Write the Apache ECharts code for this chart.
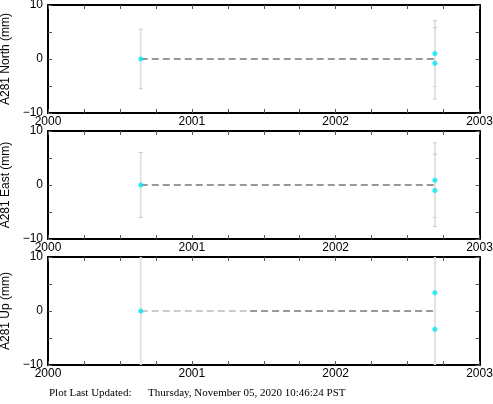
<!DOCTYPE html>
<html>
<head>
<meta charset="utf-8">
<script src="https://cdn.jsdelivr.net/npm/echarts@6/dist/echarts.min.js"></script>
<style>
html,body{margin:0;padding:0;background:#fff;}
#chart{width:493px;height:404px;}
</style>
</head>
<body>
<div id="chart"></div>
<script>
// ---- data ----
const panelNames = ['A281 North (mm)', 'A281 East (mm)', 'A281 Up (mm)'];
const epochs = [2000.645, 2002.69, 2002.69];
const northVals = [0, 1.0, -0.8];
const northErr = [5.5, 6.1, 6.6];
const eastVals = [0, 0.9, -1.0];
const eastErr = [6.0, 6.9, 6.7];
const upVals = [0, 3.4, -3.4];
const upErr = [25, 25, 25];
const trendStart = [2000.645, 0];
const trendEnd = [2002.69, 0];
const upTrendBreak = [2001.405, 0];
const xTickYears = [2000, 2001, 2002, 2003];
const yTickLabels = [-10, 0, 10];
const footerLabel = 'Plot Last Updated:';
const footerDate = 'Thursday, November 05, 2020 10:46:24 PST';

const valsList = [northVals, eastVals, upVals];
const errList = [northErr, eastErr, upErr];

const FONT = "'Liberation Sans', Arial, Helvetica, sans-serif";
const tops = [5, 131, 257];
const grids = [], xAxes = [], yAxes = [], series = [];
const frameLine = {show: true, onZero: false, lineStyle: {color: '#000', width: 2}};
const tickStyle = {show: true, inside: true, length: 4, lineStyle: {color: '#555', width: 1}};

tops.forEach((top, i) => {
  grids.push({left: 48, right: 13.5, top: top, height: 108, show: false,
    containLabel: false, outerBoundsMode: 'none'});
  const xa = {
    gridIndex: i, type: 'value', min: 2000, max: 2003, interval: 0.25,
    axisLine: frameLine, splitLine: {show: false}, axisTick: tickStyle
  };
  xAxes.push(Object.assign({}, xa, {position: 'bottom',
    axisLabel: {show: true, margin: 3, color: '#000', fontSize: 12, fontFamily: FONT,
      formatter: v => xTickYears.includes(v) ? String(v) : ''}}));
  xAxes.push(Object.assign({}, xa, {position: 'top', axisLabel: {show: false}}));
  const ya = {
    gridIndex: i, type: 'value', min: -10, max: 10, interval: 5,
    axisLine: frameLine, splitLine: {show: false}, axisTick: tickStyle
  };
  yAxes.push(Object.assign({}, ya, {position: 'left',
    name: panelNames[i], nameLocation: 'middle', nameGap: 32, nameRotate: 90,
    nameTextStyle: {color: '#000', fontSize: 12, fontFamily: FONT},
    axisLabel: {show: true, margin: 5, color: '#000', fontSize: 12, fontFamily: FONT,
      formatter: v => yTickLabels.includes(v) ? String(v).replace('-', '\u2212') : ''}}));
  yAxes.push(Object.assign({}, ya, {position: 'right', axisLabel: {show: false}}));

  const xi = i * 2, yi = i * 2;
  const vals = valsList[i], errs = errList[i];
  const pts = epochs.map((t, k) => [t, vals[k], errs[k]]);

  // error bars
  series.push({
    type: 'custom', xAxisIndex: xi, yAxisIndex: yi, clip: true, z: 1,
    data: pts,
    renderItem: function (params, api) {
      const x = api.value(0), y = api.value(1), e = api.value(2);
      const a = api.coord([x, y + e]);
      const b = api.coord([x, y - e]);
      return {type: 'group', children: [
        {type: 'line', shape: {x1: a[0], y1: a[1], x2: b[0], y2: b[1]},
          style: {stroke: '#e3e3e3', lineWidth: 2}},
        {type: 'line', shape: {x1: a[0] - 2, y1: a[1], x2: a[0] + 2, y2: a[1]},
          style: {stroke: '#c8c8c8', lineWidth: 1}},
        {type: 'line', shape: {x1: b[0] - 2, y1: b[1], x2: b[0] + 2, y2: b[1]},
          style: {stroke: '#c8c8c8', lineWidth: 1}}
      ]};
    }
  });

  // trend lines
  if (i < 2) {
    series.push({type: 'line', xAxisIndex: xi, yAxisIndex: yi, z: 2, symbol: 'none',
      data: [trendStart, trendEnd], silent: true,
      lineStyle: {color: '#777', width: 1.5, type: [7, 4]}});
  } else {
    series.push({type: 'line', xAxisIndex: xi, yAxisIndex: yi, z: 2, symbol: 'none',
      data: [trendStart, upTrendBreak], silent: true,
      lineStyle: {color: '#bbb', width: 1.5, type: [7, 4]}});
    series.push({type: 'line', xAxisIndex: xi, yAxisIndex: yi, z: 2, symbol: 'none',
      data: [upTrendBreak, trendEnd], silent: true,
      lineStyle: {color: '#777', width: 1.5, type: [7, 4]}});
  }

  // points
  series.push({type: 'scatter', xAxisIndex: xi, yAxisIndex: yi, z: 3,
    symbolSize: 5, data: pts.map(p => [p[0], p[1]]),
    itemStyle: {color: '#00e8f0'}});
});

const chart = echarts.init(document.getElementById('chart'), null, {renderer: 'canvas'});
chart.setOption({
  animation: false,
  backgroundColor: '#fff',
  grid: grids, xAxis: xAxes, yAxis: yAxes, series: series,
  graphic: [
    {type: 'text', left: 49, top: 388, style: {text: footerLabel, fill: '#000',
      font: "11px 'Liberation Serif', 'Times New Roman', serif"}},
    {type: 'text', left: 148, top: 388, style: {text: footerDate, fill: '#000',
      font: "11px 'Liberation Serif', 'Times New Roman', serif"}}
  ]
});
</script>
</body>
</html>
